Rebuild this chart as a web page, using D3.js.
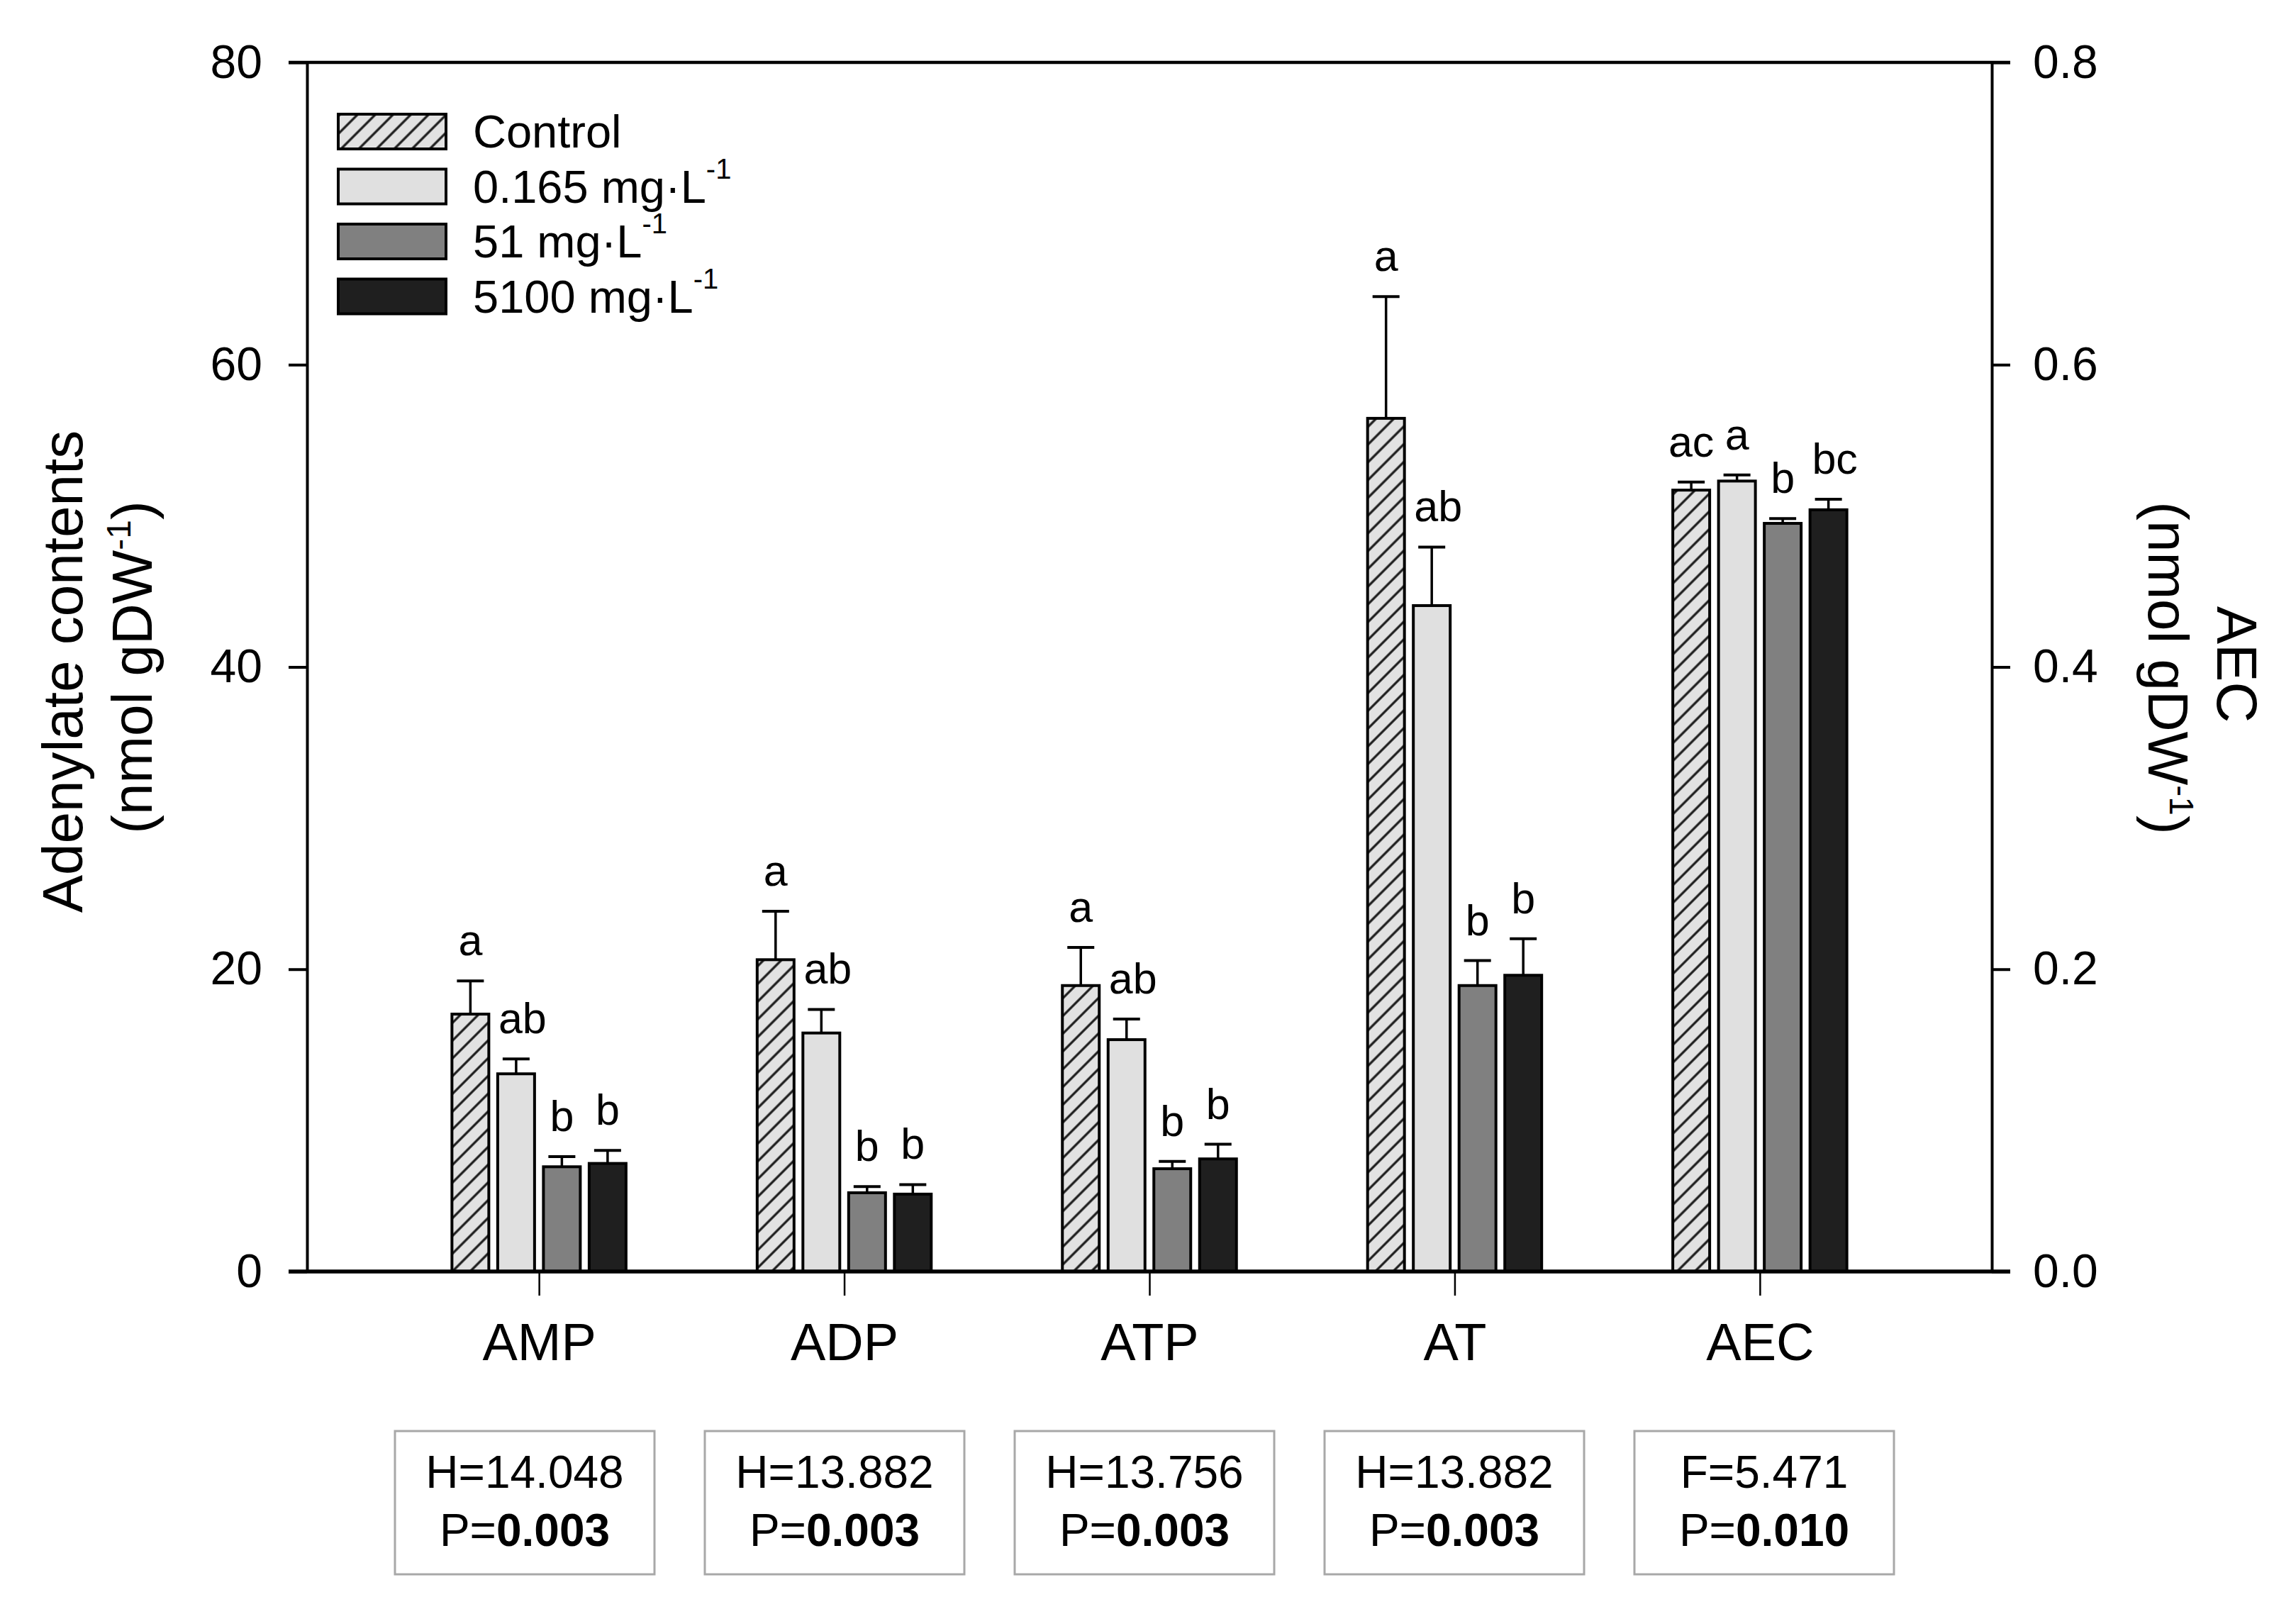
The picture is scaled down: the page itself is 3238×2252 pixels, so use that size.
<!DOCTYPE html>
<html>
<head>
<meta charset="utf-8">
<script src="https://cdn.jsdelivr.net/npm/d3@7"></script>
<style>
  body { margin: 0; background: #fff; }
  svg { display: block; font-family: "Liberation Sans", Arial, sans-serif; }
</style>
</head>
<body>
<svg id="chart" width="3238" height="2252"></svg>
<script>
// data
var categories = ['AMP', 'ADP', 'ATP', 'AT', 'AEC']
var seriesKeys = ['control', 'c0165', 'c51', 'c5100']
var seriesNames = ['Control', '0.165 mg·L', '51 mg·L', '5100 mg·L']

// means (AEC on right axis)
var controlMean = [17.03, 20.63, 18.92, 56.45, 0.517]
var c0165Mean   = [13.08, 15.78, 15.34, 44.06, 0.523]
var c51Mean     = [6.93, 5.21, 6.80, 18.92, 0.495]
var c5100Mean   = [7.15, 5.12, 7.45, 19.60, 0.504]

// upper error (SE)
var controlErr = [2.20, 3.20, 2.52, 8.05, 0.0054]
var c0165Err   = [0.99, 1.56, 1.36, 3.87, 0.0040]
var c51Err     = [0.67, 0.41, 0.48, 1.65, 0.0032]
var c5100Err   = [0.86, 0.63, 0.97, 2.42, 0.0070]

// significance letters
var controlLetters = ['a', 'a', 'a', 'a', 'ac']
var c0165Letters   = ['ab', 'ab', 'ab', 'ab', 'a']
var c51Letters     = ['b', 'b', 'b', 'b', 'b']
var c5100Letters   = ['b', 'b', 'b', 'b', 'bc']

// test statistics under each group
var statLine1 = ['H=14.048', 'H=13.882', 'H=13.756', 'H=13.882', 'F=5.471']
var statP     = ['0.003', '0.003', '0.003', '0.003', '0.010']

var leftTicks = [0, 20, 40, 60, 80]
var rightTicks = [0, 0.2, 0.4, 0.6, 0.8]

var fills = {control: 'url(#hatch)', c0165: '#e0e0e0', c51: '#808080', c5100: '#1f1f1f'}

var means = {control: controlMean, c0165: c0165Mean, c51: c51Mean, c5100: c5100Mean}
var errs = {control: controlErr, c0165: c0165Err, c51: c51Err, c5100: c5100Err}
var letters = {control: controlLetters, c0165: c0165Letters, c51: c51Letters, c5100: c5100Letters}

var plotL = 433, plotR = 2809, plotT = 88, plotB = 1793

var svg = d3.select('#chart')

var defs = svg.append('defs')
var pat = defs.append('pattern')
    .attr('id', 'hatch')
    .attr('patternUnits', 'userSpaceOnUse')
    .attr('width', 17.7)
    .attr('height', 17.7)
    .attr('patternTransform', 'rotate(45)')
pat.append('rect').attr('width', 17.7).attr('height', 17.7).attr('fill', '#e2e2e2')
pat.append('line')
    .attr('x1', 2).attr('x2', 2).attr('y1', 0).attr('y2', 17.7)
    .attr('stroke', '#1a1a1a').attr('stroke-width', 3.2)

var x = d3.scalePoint().domain(categories).range([plotL, plotR]).padding(0.76)
var xs = d3.scaleBand().domain(seriesKeys).range([-122.75, 122.75]).paddingInner(0.194)
var xBox = d3.scalePoint().domain(categories).range([740, 2488])
var yL = d3.scaleLinear().domain([0, 80]).range([plotB, plotT])
var yR = d3.scaleLinear().domain([0, 0.8]).range([plotB, plotT])

function yFor(cat){ return cat === 'AEC' ? yR : yL }
function cx(d){ return x(d.cat) + xs(d.key) + xs.bandwidth() / 2 }

// rows for bars
var rows = []
categories.forEach(function(c, i){
    seriesKeys.forEach(function(k){
        rows.push({cat: c, key: k, mean: means[k][i], err: errs[k][i], letter: letters[k][i]})
    })
})

// bars
svg.append('g').selectAll('rect.bar')
    .data(rows)
    .enter()
    .append('rect')
    .attr('class', 'bar')
    .attr('x', function(d){ return x(d.cat) + xs(d.key) })
    .attr('width', xs.bandwidth())
    .attr('y', function(d){ return yFor(d.cat)(d.mean) })
    .attr('height', function(d){ return plotB - yFor(d.cat)(d.mean) })
    .attr('fill', function(d){ return fills[d.key] })
    .attr('stroke', '#000')
    .attr('stroke-width', 4)

// error bars (upper only)
var eb = svg.append('g').selectAll('g.err').data(rows).enter().append('g').attr('class', 'err')
eb.append('line')
    .attr('x1', cx)
    .attr('x2', cx)
    .attr('y1', function(d){ return yFor(d.cat)(d.mean) })
    .attr('y2', function(d){ return yFor(d.cat)(d.mean + d.err) })
    .attr('stroke', '#000').attr('stroke-width', 3.5)
eb.append('line')
    .attr('x1', function(d){ return cx(d) - 19 })
    .attr('x2', function(d){ return cx(d) + 19 })
    .attr('y1', function(d){ return yFor(d.cat)(d.mean + d.err) })
    .attr('y2', function(d){ return yFor(d.cat)(d.mean + d.err) })
    .attr('stroke', '#000').attr('stroke-width', 4)

// letters (two-letter labels over the treated bars sit a little to the right)
svg.append('g').selectAll('text.letter')
    .data(rows)
    .enter()
    .append('text')
    .attr('class', 'letter')
    .attr('x', function(d){ return cx(d) + (d.key !== 'control' && d.letter.length > 1 ? 9 : 0) })
    .attr('y', function(d){ return yFor(d.cat)(d.mean + d.err) - 36 })
    .attr('text-anchor', 'middle')
    .attr('font-size', 61)
    .text(function(d){ return d.letter })

// axes
var axL = svg.append('g')
    .attr('transform', 'translate(' + plotL + ',0)')
    .call(d3.axisLeft(yL).tickValues(leftTicks).tickSize(26).tickPadding(37).tickSizeOuter(0))
var axR = svg.append('g')
    .attr('transform', 'translate(' + plotR + ',0)')
    .call(d3.axisRight(yR).tickValues(rightTicks).tickFormat(d3.format('.1f')).tickSize(26).tickPadding(32).tickSizeOuter(0))
;[axL, axR].forEach(function(a){
    a.select('.domain').attr('stroke-width', 4)
    a.selectAll('.tick line').attr('stroke-width', 4)
    a.selectAll('.tick text').attr('font-size', 66).attr('font-family', null).attr('fill', '#000')
})

var axB = svg.append('g')
    .attr('transform', 'translate(0,' + plotB + ')')
    .call(d3.axisBottom(x).tickSize(34).tickPadding(38).tickSizeOuter(0))
axB.select('.domain').remove()
axB.selectAll('.tick line').attr('stroke-width', 2.5)
axB.selectAll('.tick text').attr('font-size', 74).attr('font-family', null).attr('fill', '#000')

// frame top and bottom
svg.append('line').attr('x1', plotL - 26).attr('x2', plotR + 26).attr('y1', plotT).attr('y2', plotT)
    .attr('stroke', '#000').attr('stroke-width', 4.5)
svg.append('line').attr('x1', plotL - 26).attr('x2', plotR + 26).attr('y1', plotB).attr('y2', plotB)
    .attr('stroke', '#000').attr('stroke-width', 5.5)

// axis titles
svg.append('text')
    .attr('transform', 'translate(116,947) rotate(-90)')
    .attr('text-anchor', 'middle')
    .attr('font-size', 80)
    .text('Adenylate contents')
var tL2 = svg.append('text')
    .attr('transform', 'translate(214,941) rotate(-90)')
    .attr('text-anchor', 'middle')
    .attr('font-size', 80)
tL2.append('tspan').text('(nmol gDW')
tL2.append('tspan').attr('font-size', 48).attr('dy', -30).text('-1')
tL2.append('tspan').attr('dy', 30).text(')')

svg.append('text')
    .attr('transform', 'translate(3127,937) rotate(90)')
    .attr('text-anchor', 'middle')
    .attr('font-size', 80)
    .text('AEC')
var tR2 = svg.append('text')
    .attr('transform', 'translate(3030,942) rotate(90)')
    .attr('text-anchor', 'middle')
    .attr('font-size', 80)
tR2.append('tspan').text('(nmol gDW')
tR2.append('tspan').attr('font-size', 48).attr('dy', -30).text('-1')
tR2.append('tspan').attr('dy', 30).text(')')

// legend
var lg = svg.append('g').selectAll('g.leg')
    .data(seriesKeys)
    .enter()
    .append('g')
    .attr('class', 'leg')
    .attr('transform', function(d, i){ return 'translate(477,' + (161 + i * 77.5) + ')' })
lg.append('rect')
    .attr('width', 152).attr('height', 49)
    .attr('fill', function(d){ return fills[d] })
    .attr('stroke', '#000').attr('stroke-width', 4)
var lt = lg.append('text')
    .attr('x', 190)
    .attr('y', 47)
    .attr('font-size', 65)
lt.append('tspan').text(function(d, i){ return seriesNames[i] })
lt.filter(function(d){ return d !== 'control' })
    .append('tspan').attr('font-size', 40).attr('dy', -34).text('-1')

// statistics boxes
var sb = svg.append('g').selectAll('g.stat')
    .data(categories)
    .enter()
    .append('g')
    .attr('class', 'stat')
    .attr('transform', function(d){ return 'translate(' + xBox(d) + ',0)' })
sb.append('rect')
    .attr('x', -183).attr('y', 2018)
    .attr('width', 366).attr('height', 202)
    .attr('fill', 'none')
    .attr('stroke', '#a8a8a8').attr('stroke-width', 3)
sb.append('text')
    .attr('y', 2098)
    .attr('text-anchor', 'middle')
    .attr('font-size', 64)
    .text(function(d, i){ return statLine1[i] })
var pt = sb.append('text')
    .attr('y', 2180)
    .attr('text-anchor', 'middle')
    .attr('font-size', 64)
pt.append('tspan').text('P=')
pt.append('tspan').attr('font-weight', 'bold').text(function(d, i){ return statP[i] })
</script>
</body>
</html>
